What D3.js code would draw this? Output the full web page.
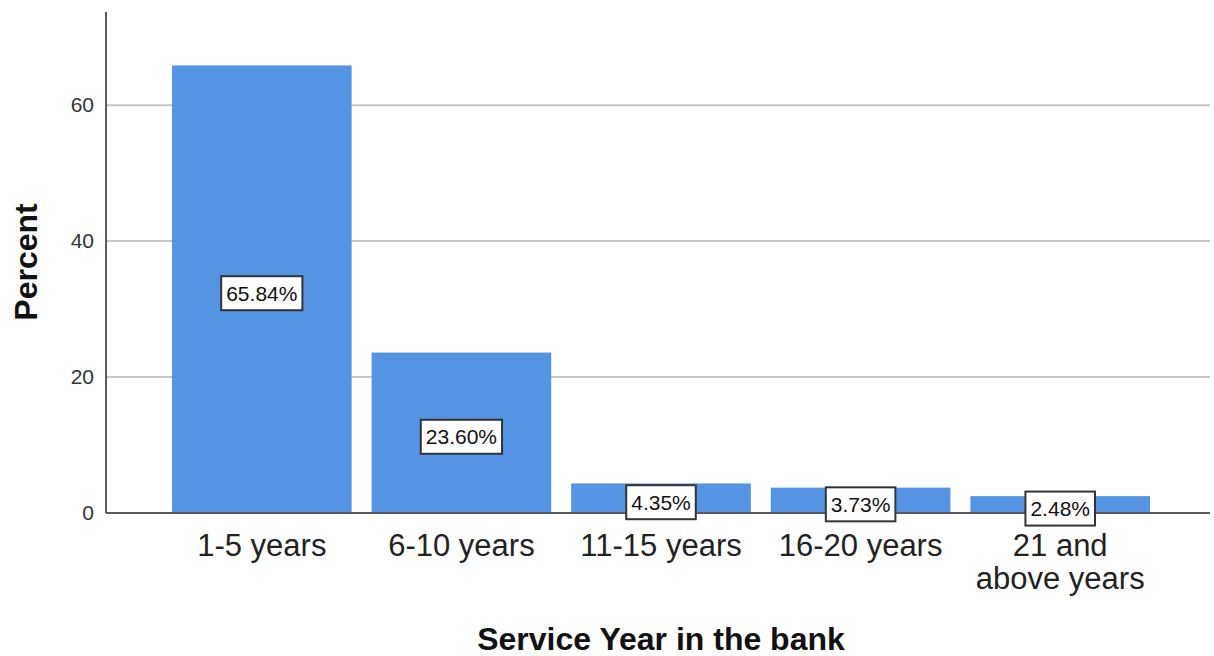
<!DOCTYPE html>
<html>
<head>
<meta charset="utf-8">
<script src="https://cdn.jsdelivr.net/npm/d3@7"></script>
<style>
  body { margin: 0; background: #fff; }
  text { font-family: "Liberation Sans", Arial, sans-serif; }
</style>
</head>
<body>
<svg id="chart"></svg>
<script>
const categories = ["1-5 years", "6-10 years", "11-15 years", "16-20 years", "21 and above years"];
const percents = [65.84, 23.60, 4.35, 3.73, 2.48];
const yTicks = [0, 20, 40, 60];
const xTitle = "Service Year in the bank";
const yTitle = "Percent";

const width = 1214;
const height = 656;
const plotLeft = 106;
const plotRight = 1210;
const barColor = "#5594e2";
const axisColor = "#5a5a5a";

const svg = d3.select("#chart")
  .attr("width", width)
  .attr("height", height);

const xScale = d3.scaleBand()
  .domain(categories)
  .range([162, 1160])
  .paddingInner(0.1)
  .paddingOuter(0.05);

const yScale = d3.scaleLinear()
  .domain([0, 73.7])
  .range([513, 12]);

// gridlines
svg.selectAll(".grid")
  .data(yTicks.filter(d => d > 0))
  .enter().append("line")
  .attr("class", "grid")
  .attr("x1", plotLeft)
  .attr("x2", plotRight)
  .attr("y1", d => yScale(d))
  .attr("y2", d => yScale(d))
  .attr("stroke", "#c6c6c6")
  .attr("stroke-width", 2);

// bars
svg.selectAll(".bar")
  .data(percents)
  .enter().append("rect")
  .attr("class", "bar")
  .attr("x", (d, i) => xScale(categories[i]))
  .attr("width", xScale.bandwidth())
  .attr("y", d => yScale(d))
  .attr("height", d => yScale(0) - yScale(d))
  .attr("fill", barColor);

// axes
const yAxis = svg.append("g")
  .attr("transform", `translate(${plotLeft}, 0)`)
  .call(d3.axisLeft(yScale).tickValues(yTicks).tickSize(0).tickPadding(12));
yAxis.select(".domain").remove();
yAxis.selectAll(".tick text")
  .attr("font-size", 21)
  .attr("font-family", "Liberation Sans, Arial, sans-serif")
  .attr("fill", "#333");

svg.append("line")
  .attr("x1", plotLeft).attr("x2", plotLeft)
  .attr("y1", yScale.range()[1]).attr("y2", yScale(0))
  .attr("stroke", axisColor).attr("stroke-width", 2);

svg.append("line")
  .attr("x1", plotLeft).attr("x2", plotRight)
  .attr("y1", yScale(0)).attr("y2", yScale(0))
  .attr("stroke", axisColor).attr("stroke-width", 2);

const xAxis = svg.append("g")
  .attr("transform", `translate(0, ${yScale(0)})`)
  .call(d3.axisBottom(xScale).tickSize(0).tickFormat(""));
xAxis.select(".domain").remove();

// wrapped tick labels
const labelLines = {
  "21 and above years": ["21 and", "above years"]
};
xAxis.selectAll(".tick").each(function (d) {
  const lines = labelLines[d] || [d];
  const t = d3.select(this).append("text")
    .attr("text-anchor", "middle")
    .attr("font-size", 31)
    .attr("fill", "#222");
  lines.forEach((ln, i) => {
    t.append("tspan").attr("x", 0).attr("y", 43 + i * 33).text(ln);
  });
});

// value labels in boxes
const labels = svg.selectAll(".vlabel")
  .data(percents)
  .enter().append("g")
  .attr("class", "vlabel")
  .attr("transform", (d, i) => {
    const cx = xScale(categories[i]) + xScale.bandwidth() / 2;
    const cy = (yScale(d) + yScale(0)) / 2 + 4;
    return `translate(${cx}, ${cy})`;
  });

labels.append("text")
  .attr("text-anchor", "middle")
  .attr("dy", "0.36em")
  .attr("font-size", 21)
  .attr("fill", "#111")
  .text(d => d.toFixed(2) + "%");

labels.each(function () {
  const g = d3.select(this);
  const bb = g.select("text").node().getBBox();
  g.insert("rect", "text")
    .attr("x", bb.x - 5)
    .attr("y", -17)
    .attr("width", bb.width + 10)
    .attr("height", 34)
    .attr("fill", "#fff")
    .attr("stroke", "#333")
    .attr("stroke-width", 2);
});

// titles
svg.append("text")
  .attr("x", (plotLeft + plotRight) / 2 + 3)
  .attr("y", 650)
  .attr("text-anchor", "middle")
  .attr("font-size", 32)
  .attr("font-weight", "bold")
  .attr("fill", "#111")
  .text(xTitle);

svg.append("text")
  .attr("transform", `translate(37, 262) rotate(-90)`)
  .attr("text-anchor", "middle")
  .attr("font-size", 32)
  .attr("font-weight", "bold")
  .attr("fill", "#111")
  .text(yTitle);
</script>
</body>
</html>
